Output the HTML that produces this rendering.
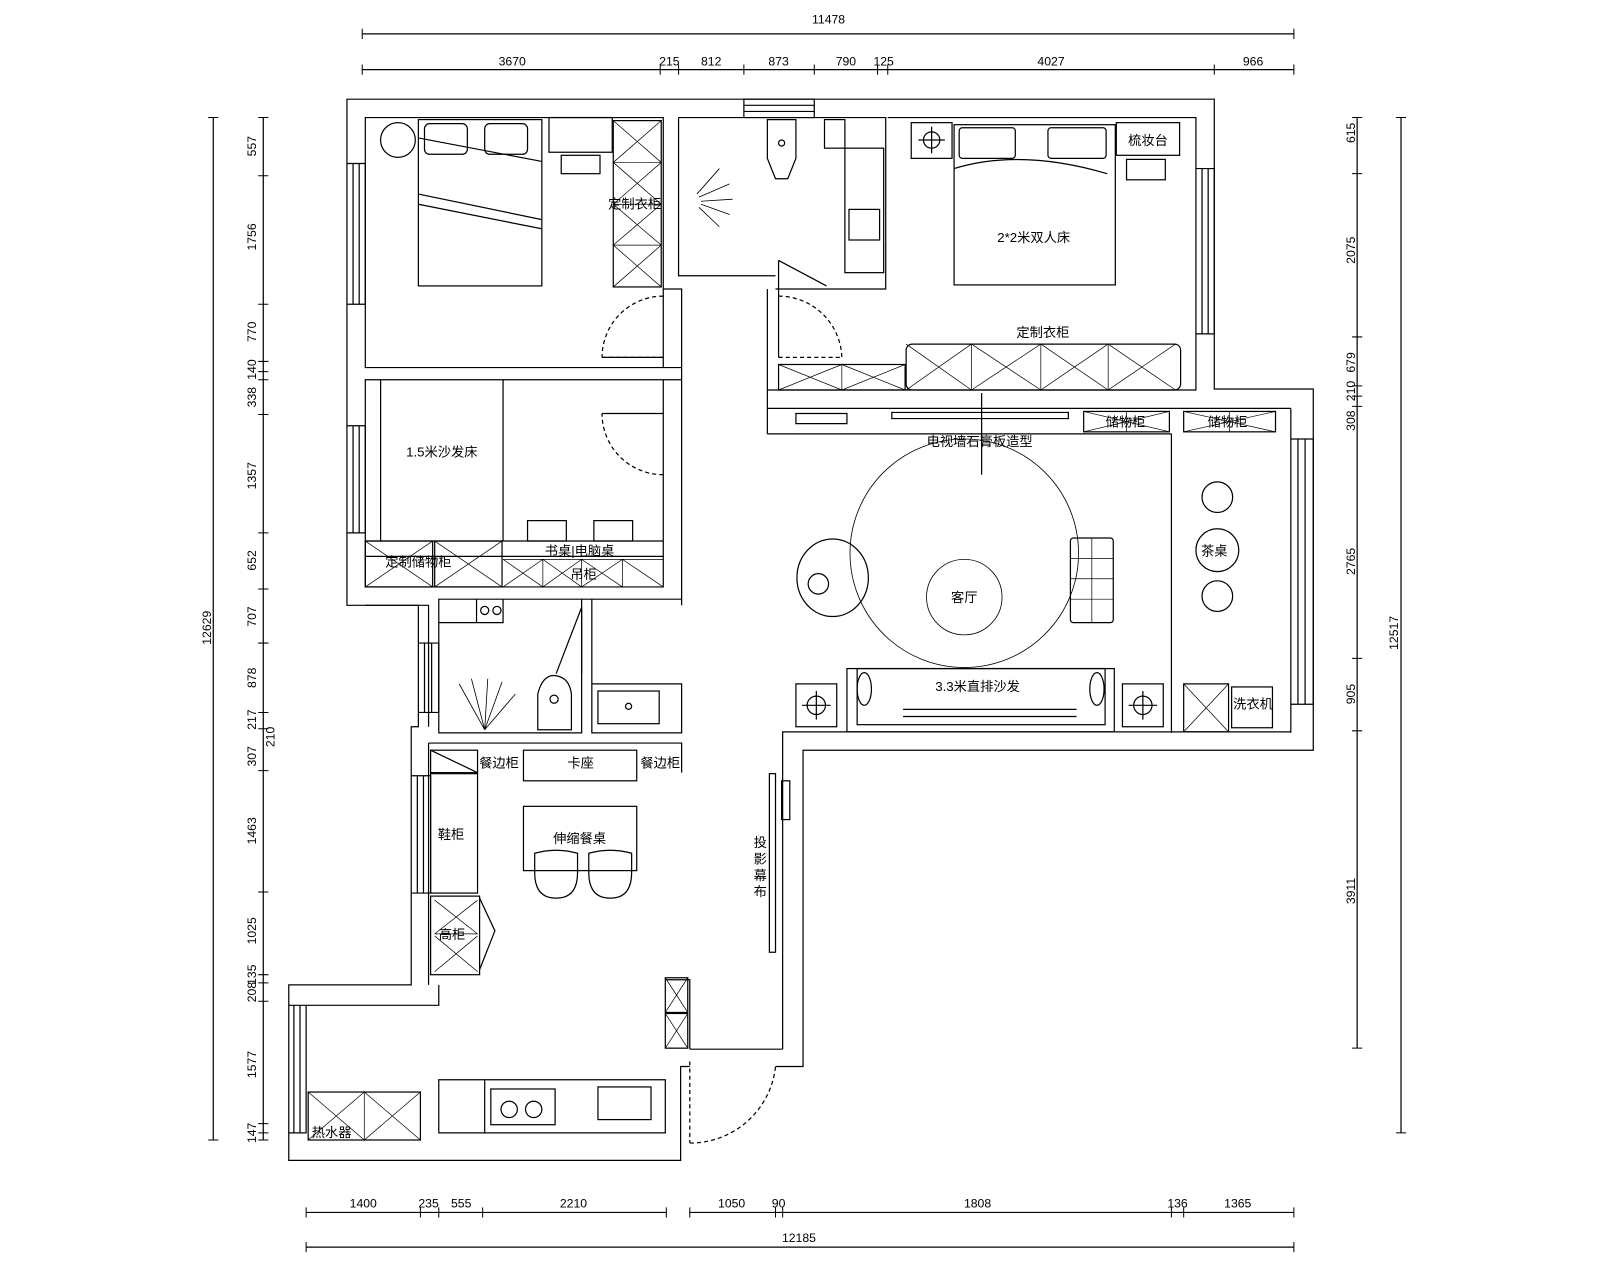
<!DOCTYPE html>
<html><head><meta charset="utf-8"><style>
html,body{margin:0;padding:0;background:#fff;}
svg{display:block;}
text{font-family:"Liberation Sans","Noto Sans CJK SC",sans-serif;fill:#000;}
.d{font-family:"Liberation Sans",sans-serif;font-size:12px;}
.c{font-size:13px;}
</style></head><body>
<svg width="1600" height="1280" viewBox="0 0 1568 1254" xmlns="http://www.w3.org/2000/svg">
<g fill="none" stroke="#000" stroke-width="1.2">
<!-- dimension lines -->
<path d="M355,33H1268 M355,68H1268 M300,1188H653 M676,1188H1268 M300,1222H1268 M209,115V1117 M258,115V1117 M1373,115V1110 M1330,115V1027"/>
<path stroke-width="1" d="M355,28v10 M1268,28v10 M355,63v10 M647,63v10 M665,63v10 M729,63v10 M798,63v10 M860,63v10 M870,63v10 M1190,63v10 M1268,63v10
M300,1183v10 M412,1183v10 M430,1183v10 M473,1183v10 M653,1183v10 M676,1183v10 M760,1183v10 M767,1183v10 M1148,1183v10 M1160,1183v10 M1268,1183v10 M300,1217v10 M1268,1217v10
M204,115h10 M204,1117h10
M253,115h10 M253,172h10 M253,298h10 M253,354h10 M253,364h10 M253,372h10 M253,406h10 M253,522h10 M253,577h10 M253,630h10 M253,698h10 M253,714h10 M253,755h10 M253,874h10 M253,955h10 M253,963h10 M253,981h10 M253,1101h10 M253,1110h10 M253,1117h10
M1368,115h10 M1368,1110h10 M1325,115h10 M1325,170h10 M1325,330h10 M1325,378h10 M1325,388h10 M1325,398h10 M1325,645h10 M1325,716h10 M1325,1027h10"/>
<!-- outer wall -->
<path d="M760,1045H787V735H1287V381H1190V97H340V593H410V712H403V965H283V1137H667V1045H676"/>
<!-- interior outlines -->
<path d="M358,115H650V360H358Z M358,372H650V575H358Z M665,115V270H760 M665,115H868V283H760 M870,115H1172V382H752V283 M650,283H668V593 M650,360H668 M650,372H668 M752,283V425 M752,400H1265 M752,425H1148 M1148,425V718 M1265,400V718 M767,1028V717H1265 M1148,718V717"/>
<path d="M358,593H420 M410,593H420V712 M430,587H570V718H430Z M580,587V670 M580,670H668V718H580Z M570,587H668 M420,728H668V757 M420,728V965 M430,965V985H412 M300,985H412 M430,1058H652V1110H430Z M652,960H676V1028 M676,1028H767"/>
<!-- windows -->
<path d="M340,160H358V298H340 M346,160V298 M352,160V298 M340,417H358V522H340 M346,417V522 M352,417V522 M410,630H430V698H410 M416,630V698 M423,630V698 M403,760H422V875H403 M409,760V875 M415,760V875 M283,985H300V1110H283 M288,985V1110 M294,985V1110 M1172,165H1190V327H1172 M1178,165V327 M1184,165V327 M1265,430H1287V690H1265 M1272,430V690 M1279,430V690 M729,97H798V115H729Z M729,103H798 M729,109H798"/>
<!-- bedroom 1 -->
<rect x="410" y="117" width="121" height="163"/>
<rect x="416" y="121" width="42" height="30" rx="5"/><rect x="475" y="121" width="42" height="30" rx="5"/>
<path d="M410,135L531,158 M410,190L531,215 M410,200L531,224"/>
<circle cx="390" cy="137" r="17"/>
<rect x="538" y="115" width="62" height="34"/><rect x="550" y="152" width="38" height="18"/>
<rect x="601" y="118" width="47" height="163"/>
<path d="M601,159H648 M601,200H648 M601,240H648 M601,118L648,159M648,118L601,159 M601,159L648,200M648,159L601,200 M601,200L648,240M648,200L601,240 M601,240L648,281M648,240L601,281" stroke-width="0.7"/>
<!-- doors -->
<path d="M590,350H650 M650,290A60,60 0 0 0 590,350" stroke-dasharray="4,3"/>
<path d="M590,350H650 M590,405H650" />
<path d="M650,465A60,60 0 0 1 590,405" stroke-dasharray="4,3"/>
<path d="M763,350H825 M763,290A62,62 0 0 1 825,350" stroke-dasharray="4,3"/>
<path d="M763,283V350 M763,255L810,280 M763,255V283"/>
<path d="M676,1040V1120 M676,1120A84,84 0 0 0 760,1045" stroke-dasharray="4,3"/>
<path d="M570,595L545,660 M570,595V660"/>
<!-- bath 1 -->
<path d="M752,117H780V155L772,175H760L752,155Z"/><circle cx="766" cy="140" r="3"/>
<rect x="808" y="117" width="20" height="28"/>
<rect x="828" y="145" width="38" height="122"/><rect x="832" y="205" width="30" height="30"/>
<path d="M683,190L705,165 M685,193L715,180 M687,197L718,195 M687,200L715,210 M685,203L705,222" stroke-width="0.8"/>
<!-- master -->
<rect x="893" y="120" width="40" height="35"/><circle cx="913" cy="137" r="8"/><path d="M900,137H926M913,124V150"/>
<rect x="935" y="122" width="158" height="157"/>
<rect x="940" y="125" width="55" height="30" rx="3"/><rect x="1027" y="125" width="57" height="30" rx="3"/>
<path d="M935,165Q1000,145 1085,170"/>
<rect x="1094" y="120" width="62" height="32"/><rect x="1104" y="156" width="38" height="20"/>
<rect x="888" y="337" width="269" height="45" rx="6"/><rect x="763" y="357" width="124" height="25"/>
<path d="M888,337L952,382M952,337L888,382 M952,337L1020,382M1020,337L952,382 M1020,337L1086,382M1086,337L1020,382 M1086,337L1152,382M1152,337L1086,382 M952,337V382 M1020,337V382 M1086,337V382 M763,357L825,382M825,357L763,382 M825,357L887,382M887,357L825,382 M825,357V382" stroke-width="0.7"/>
<!-- TV wall & storage -->
<path d="M874,404H1047V410H874Z M962,385V465 M780,405H830V415H780Z"/>
<rect x="1062" y="403" width="84" height="20"/><rect x="1160" y="403" width="90" height="20"/>
<path d="M1062,403L1146,423M1146,403L1062,423 M1160,403L1250,423M1250,403L1160,423 M1104,403V423 M1205,403V423" stroke-width="0.7"/>
<!-- living -->
<circle cx="945" cy="542" r="112" stroke-width="0.8"/><circle cx="945" cy="585" r="37" stroke-width="0.8"/>
<ellipse cx="816" cy="566" rx="35" ry="38"/><circle cx="802" cy="572" r="10"/>
<rect x="1049" y="527" width="42" height="83" rx="3"/><path d="M1049,547H1091M1049,567H1091M1049,587H1091M1070,527V610" stroke-width="0.7"/>
<rect x="830" y="655" width="262" height="62"/><rect x="840" y="655" width="243" height="55"/>
<ellipse cx="847" cy="675" rx="7" ry="16"/><ellipse cx="1075" cy="675" rx="7" ry="16"/>
<path d="M885,695h170 M885,702h170"/>
<rect x="780" y="670" width="40" height="42"/><circle cx="800" cy="691" r="9"/><path d="M786,691H814M800,677V705"/>
<rect x="1100" y="670" width="40" height="42"/><circle cx="1120" cy="691" r="9"/><path d="M1106,691H1134M1120,677V705"/>
<circle cx="1193" cy="487" r="15"/><circle cx="1193" cy="539" r="21"/><circle cx="1193" cy="584" r="15"/>
<rect x="1160" y="670" width="44" height="47"/><path d="M1160,670L1204,717M1204,670L1160,717" stroke-width="0.7"/>
<rect x="1207" y="673" width="40" height="40"/>
<!-- bedroom2 -->
<path d="M373,372V530 M493,372V530 M358,530H650 M358,545H650"/>
<rect x="517" y="510" width="38" height="20"/><rect x="582" y="510" width="38" height="20"/>
<rect x="358" y="530" width="66" height="45"/><rect x="426" y="530" width="66" height="45"/>
<path d="M358,575L424,530M358,530L424,575 M426,575L492,530M426,530L492,575" stroke-width="0.7"/>
<path d="M493,548H650 M532,548V575 M570,548V575 M610,548V575 M493,548L532,575M532,548L493,575 M532,548L570,575M570,548L532,575 M570,548L610,575M610,548L570,575 M610,548L650,575" stroke-width="0.7"/>
<!-- bath2 -->
<path d="M430,610H493V587 M467,587V610"/><circle cx="475" cy="598" r="4"/><circle cx="487" cy="598" r="4"/>
<path d="M527,715V680Q532,660 545,662Q558,664 560,680V715Z"/><circle cx="543" cy="685" r="4"/>
<rect x="586" y="677" width="60" height="32"/><circle cx="616" cy="692" r="3"/>
<path d="M475,715L450,670 M475,715L462,665 M475,715L478,665 M475,715L492,668 M475,715L505,680" stroke-width="0.8"/>
<!-- dining -->
<rect x="422" y="735" width="46" height="22"/><path d="M422,735L468,757"/><rect x="513" y="735" width="111" height="30"/>
<rect x="422" y="758" width="46" height="117"/>
<rect x="422" y="878" width="48" height="77"/><path d="M426,882L468,915M468,882L426,915 M426,917L468,952M468,917L426,952 M426,915H468" stroke-width="0.7"/>
<path d="M470,880L485,912L470,950"/>
<rect x="513" y="790" width="111" height="63"/>
<path d="M524,836V855Q524,880 545,880Q566,880 566,855V836Q545,830 524,836Z M577,836V855Q577,880 598,880Q619,880 619,855V836Q598,830 577,836Z"/>
<rect x="754" y="758" width="6" height="175"/><rect x="766" y="765" width="8" height="38"/>
<rect x="652" y="958" width="22" height="34"/><rect x="652" y="993" width="22" height="34"/>
<path d="M652,958L674,992M674,958L652,992 M652,993L674,1027M674,993L652,1027" stroke-width="0.7"/>
<!-- kitchen -->
<path d="M475,1058V1110"/>
<rect x="481" y="1067" width="63" height="35"/><circle cx="499" cy="1087" r="8"/><circle cx="523" cy="1087" r="8"/>
<rect x="586" y="1065" width="52" height="32"/>
<rect x="302" y="1070" width="110" height="47"/><path d="M357,1070V1117 M302,1070L357,1117M357,1070L302,1117 M357,1070L412,1117M412,1070L357,1117" stroke-width="0.7"/>
</g>
<!-- dimension text -->
<g class="d" text-anchor="middle">
<text x="812" y="23">11478</text>
<text x="502" y="64">3670</text><text x="656" y="64">215</text><text x="697" y="64">812</text><text x="763" y="64">873</text><text x="829" y="64">790</text><text x="866" y="64">125</text><text x="1030" y="64">4027</text><text x="1228" y="64">966</text>
<text x="356" y="1183">1400</text><text x="420" y="1183">235</text><text x="452" y="1183">555</text><text x="562" y="1183">2210</text><text x="717" y="1183">1050</text><text x="763" y="1183">90</text><text x="958" y="1183">1808</text><text x="1154" y="1183">136</text><text x="1213" y="1183">1365</text>
<text x="783" y="1217">12185</text>
<text transform="translate(207,615) rotate(-90)">12629</text>
<text transform="translate(1370,620) rotate(-90)">12517</text>
<g>
<text transform="translate(251,143) rotate(-90)">557</text><text transform="translate(251,232) rotate(-90)">1756</text><text transform="translate(251,325) rotate(-90)">770</text><text transform="translate(251,362) rotate(-90)">140</text><text transform="translate(251,389) rotate(-90)">338</text><text transform="translate(251,466) rotate(-90)">1357</text><text transform="translate(251,549) rotate(-90)">652</text><text transform="translate(251,604) rotate(-90)">707</text><text transform="translate(251,664) rotate(-90)">878</text><text transform="translate(251,705) rotate(-90)">217</text><text transform="translate(269,722) rotate(-90)">210</text><text transform="translate(251,741) rotate(-90)">307</text><text transform="translate(251,814) rotate(-90)">1463</text><text transform="translate(251,912) rotate(-90)">1025</text><text transform="translate(251,955) rotate(-90)">135</text><text transform="translate(251,972) rotate(-90)">208</text><text transform="translate(251,1043) rotate(-90)">1577</text><text transform="translate(251,1110) rotate(-90)">147</text>
<text transform="translate(1328,130) rotate(-90)">615</text><text transform="translate(1328,245) rotate(-90)">2075</text><text transform="translate(1328,355) rotate(-90)">679</text><text transform="translate(1328,383) rotate(-90)">210</text><text transform="translate(1328,412) rotate(-90)">308</text><text transform="translate(1328,550) rotate(-90)">2765</text><text transform="translate(1328,680) rotate(-90)">905</text><text transform="translate(1328,873) rotate(-90)">3911</text>
</g>
</g>
<!-- labels -->
<g class="c" text-anchor="middle">
<text x="622" y="204">定制衣柜</text><text x="1013" y="237">2*2米双人床</text><text x="1125" y="142">梳妆台</text><text x="1022" y="330">定制衣柜</text>
<text x="433" y="447">1.5米沙发床</text><text x="410" y="555">定制储物柜</text><text x="568" y="544">书桌|电脑桌</text><text x="572" y="567">吊柜</text>
<text x="960" y="437">电视墙石膏板造型</text><text x="1203" y="418">储物柜</text><text x="1103" y="418">储物柜</text><text x="1190" y="544">茶桌</text><text x="945" y="590">客厅</text>
<text x="958" y="677">3.3米直排沙发</text><text x="1228" y="694">洗衣机</text>
<text x="489" y="752">餐边柜</text><text x="569" y="752">卡座</text><text x="647" y="752">餐边柜</text><text x="442" y="822">鞋柜</text><text x="568" y="826">伸缩餐桌</text><text x="443" y="920">高柜</text><text x="325" y="1114">热水器</text>
<text x="745" y="830">投</text><text x="745" y="846">影</text><text x="745" y="862">幕</text><text x="745" y="878">布</text>
</g>
</svg>
</body></html>
